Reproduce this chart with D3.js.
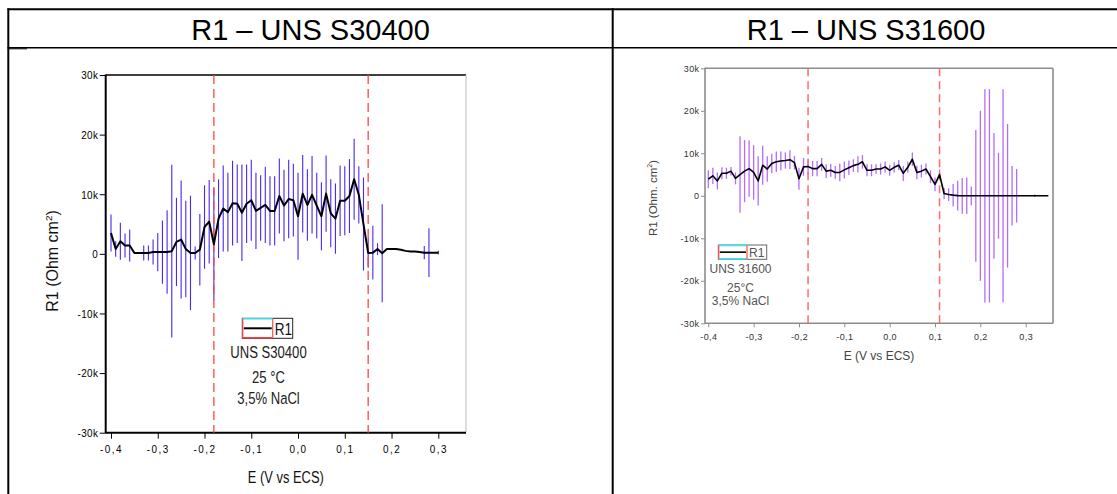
<!DOCTYPE html>
<html>
<head>
<meta charset="utf-8">
<script src="https://cdn.jsdelivr.net/npm/d3@7"></script>
<style>
  html, body { margin: 0; padding: 0; background: #fff; }
  svg { display: block; }
  text { font-family: "Liberation Sans", Arial, sans-serif; }
</style>
</head>
<body>
<svg id="fig" width="1117" height="494"></svg>
<script>
// ---- data -------------------------------------------------------------
const headers = ["R1 – UNS S30400", "R1 – UNS S31600"];
const xTickValues = [-0.4, -0.3, -0.2, -0.1, 0.0, 0.1, 0.2, 0.3];
const yTickValues = [-30, -20, -10, 0, 10, 20, 30];   // kOhm cm²

// UNS S30400: potential (V vs ECS), R1 (k), error (k)
const e304 = [-0.40,-0.39,-0.38,-0.37,-0.36,-0.35,-0.34,-0.33,-0.32,-0.31,
              -0.30,-0.29,-0.28,-0.27,-0.26,-0.25,-0.24,-0.23,-0.22,-0.21,
              -0.20,-0.19,-0.18,-0.17,-0.16,-0.15,-0.14,-0.13,-0.12,-0.11,
              -0.10,-0.09,-0.08,-0.07,-0.06,-0.05,-0.04,-0.03,-0.02,-0.01,
               0.00, 0.01, 0.02, 0.03, 0.04, 0.05, 0.06, 0.07, 0.08, 0.09,
               0.10, 0.11, 0.12, 0.13, 0.14, 0.15, 0.16, 0.17, 0.18, 0.19,
               0.20, 0.21, 0.22, 0.23, 0.24, 0.25, 0.26, 0.27, 0.28, 0.29, 0.30];
const r304 = [3.5, 0.8, 2.1, 1.4, 1.4, 0.15, 0.15, 0.15, 0.15, 0.3,
              0.3, 0.3, 0.3, 0.45, 2.0, 2.4, 0.8, 0.15, 0.15, 0.7,
              4.5, 5.4, 1.6, 5.9, 7.6, 7.0, 8.5, 8.4, 6.9, 8.4,
              9.0, 7.2, 7.7, 8.2, 7.2, 7.2, 9.7, 8.1, 9.2, 9.0,
              6.3, 10.1, 8.2, 9.9, 8.1, 6.3, 10.1, 6.8, 5.9, 8.9,
              8.9, 9.7, 12.5, 9.9, 5.0, 0.15, 0.2, 0.8, 0.1, 0.8,
              0.8, 0.8, 0.7, 0.5, 0.4, 0.4, 0.3, 0.2, 0.2, 0.2, 0.2];
const err304 = [3.1, 1.3, 3.1, 2.0, 2.7, 0, 0, 1.25, 1.25, 2.1,
                3.2, 5.3, 7.0, 14.5, 7.4, 9.9, 8.1, 9.6, 1.1, 6.0,
                7.0, 7.0, 9.4, 6.6, 7.2, 6.6, 7.1, 6.6, 8.1, 6.6,
                6.8, 6.4, 5.5, 6.4, 5.8, 5.8, 6.3, 6.0, 6.6, 6.1,
                7.3, 6.5, 6.0, 6.5, 5.5, 5.7, 6.4, 5.7, 5.9, 5.9,
                5.8, 6.2, 6.8, 4.8, 7.8, 2.5, 4.5, 1.0, 8.2, 0,
                0, 0, 0, 0, 0, 0, 0, 1.1, 4.1, 0, 0.3];
const markers304 = [-0.18, 0.15];
const notes304 = ["UNS S30400", "25 °C", "3,5% NaCl"];

// UNS S31600
const e316 = [-0.40,-0.39,-0.38,-0.37,-0.36,-0.35,-0.34,-0.33,-0.32,-0.31,
              -0.30,-0.29,-0.28,-0.27,-0.26,-0.25,-0.24,-0.23,-0.22,-0.21,
              -0.20,-0.19,-0.18,-0.17,-0.16,-0.15,-0.14,-0.13,-0.12,-0.11,
              -0.10,-0.09,-0.08,-0.07,-0.06,-0.05,-0.04,-0.03,-0.02,-0.01,
               0.00, 0.01, 0.02, 0.03, 0.04, 0.05, 0.06, 0.07, 0.08, 0.09,
               0.10, 0.11, 0.12, 0.13, 0.14, 0.15, 0.16, 0.17, 0.18, 0.19,
               0.20, 0.21, 0.22, 0.23, 0.24, 0.25, 0.26, 0.27, 0.28, 0.29,
               0.30, 0.31, 0.32, 0.33, 0.34, 0.35];
const r316 = [3.9, 4.7, 3.5, 5.3, 5.3, 5.8, 4.1, 5.0, 5.8, 6.4,
              5.5, 3.5, 7.2, 6.3, 7.6, 8.0, 8.2, 8.3, 8.5, 7.8,
              4.0, 6.8, 6.9, 6.4, 6.4, 7.4, 5.8, 6.0, 5.5, 5.5,
              6.1, 6.6, 7.1, 7.4, 8.0, 6.0, 6.0, 6.3, 6.3, 6.8,
              6.0, 6.7, 7.2, 5.3, 6.7, 8.6, 5.5, 5.8, 6.3, 4.5,
              2.7, 5.0, 0.55, 0.3, 0.15, 0.05, 0, 0, 0, 0,
              0, 0, 0, 0, 0, 0, 0, 0, 0, 0,
              0, 0, 0, 0, 0, 0];
const err316 = [2.1, 1.9, 2.0, 1.4, 1.3, 1.0, 1.4, 9.0, 7.3, 6.6,
                6.4, 5.8, 4.6, 3.0, 2.3, 2.4, 2.2, 1.9, 2.2, 1.6,
                2.6, 2.1, 1.9, 1.8, 1.8, 1.5, 1.6, 1.5, 1.5, 2.1,
                2.0, 1.7, 1.5, 1.9, 1.6, 1.4, 1.4, 1.1, 1.3, 1.3,
                1.3, 1.2, 1.2, 1.8, 1.3, 1.6, 1.6, 1.5, 1.3, 1.5,
                1.6, 1.2, 1.3, 1.5, 2.6, 3.5, 4.2, 4.3, 2.2, 15.5,
                20.0, 25.1, 25.1, 14.8, 10.1, 25.1, 16.9, 7.0, 6.3, 0,
                0, 0, 0.3, 0, 0, 0];
const markers316 = [-0.18, 0.11];
const notes316 = ["UNS 31600", "25°C", "3,5%  NaCl"];

// ---- page frame (two-column table) -------------------------------------
const svg = d3.select("#fig");
const W = 1117, H = 494;
const colX = 612.7;

svg.append("line").attr("x1", 7.5).attr("x2", W).attr("y1", 9.3).attr("y2", 9.3)
   .attr("stroke", "#000").attr("stroke-width", 2);
svg.append("line").attr("x1", 7.5).attr("x2", W).attr("y1", 47.7).attr("y2", 47.7)
   .attr("stroke", "#000").attr("stroke-width", 1.6);
svg.append("line").attr("x1", 8.3).attr("x2", 8.3).attr("y1", 8.3).attr("y2", H)
   .attr("stroke", "#000").attr("stroke-width", 2);
svg.append("line").attr("x1", colX).attr("x2", colX).attr("y1", 8.3).attr("y2", H)
   .attr("stroke", "#000").attr("stroke-width", 2);
svg.append("line").attr("x1", 8).attr("x2", 27).attr("y1", 48.8).attr("y2", 48.8)
   .attr("stroke", "#000").attr("stroke-width", 1);

svg.selectAll("text.header").data(headers).join("text")
   .attr("class", "header")
   .attr("x", (d, i) => i === 0 ? 310.5 : 866)
   .attr("y", 39.5)
   .attr("text-anchor", "middle")
   .attr("font-size", 29)
   .attr("fill", "#000")
   .text(d => d);

// ---- panel renderer ---------------------------------------------------
const fmtX = d => (d < 0 ? "-" : "") + Math.abs(d).toFixed(1).replace(".", ",");
const fmtY = d => d === 0 ? "0" : d + "k";

// text placed at (x, y) and condensed horizontally by sx
function narrowText(sel, x, y, sx) {
  return sel.attr("transform", `translate(${x},${y}) scale(${sx},1)`);
}

function drawPanel(cfg, E, R, ERR, markers, notes) {
  const g = svg.append("g");
  const x = d3.scaleLinear().domain([-0.4, 0.3]).range(cfg.xRange);
  const y = d3.scaleLinear().domain([-30, 30]).range(cfg.yRange);
  const pts = E.map((e, i) => ({ e, r: R[i], s: ERR[i] }));

  // frame
  const f = cfg.frame;
  g.append("line").attr("x1", f.l).attr("x2", f.r).attr("y1", f.t).attr("y2", f.t)
    .attr("stroke", cfg.frameTop).attr("stroke-width", cfg.frameTopW);
  g.append("line").attr("x1", f.r).attr("x2", f.r).attr("y1", f.t).attr("y2", f.b)
    .attr("stroke", cfg.frameRight).attr("stroke-width", cfg.frameRightW);

  // axes
  const ax = g.append("g").attr("transform", `translate(0,${f.b})`)
    .call(d3.axisBottom(x).tickValues(xTickValues).tickSize(cfg.tick).tickFormat(fmtX));
  ax.select(".domain").remove();
  ax.selectAll(".tick line").attr("stroke", cfg.axisColor).attr("stroke-width", cfg.tickW);
  ax.selectAll(".tick text")
    .attr("y", 0).attr("dy", 0)
    .attr("font-size", cfg.tickFont).attr("fill", cfg.tickColor)
    .attr("letter-spacing", cfg.xTickSpacing).attr("font-family", null)
    .attr("transform", `translate(0,${cfg.xLabelY}) scale(${cfg.tickSx},1)`);

  const ay = g.append("g").attr("transform", `translate(${f.l},0)`)
    .call(d3.axisLeft(y).tickValues(yTickValues).tickSize(cfg.tick).tickFormat(fmtY));
  ay.select(".domain").remove();
  ay.selectAll(".tick line").attr("stroke", cfg.axisColor).attr("stroke-width", cfg.tickW);
  ay.selectAll(".tick text")
    .attr("x", 0).attr("dy", "0.35em")
    .attr("font-size", cfg.tickFont).attr("fill", cfg.tickColor)
    .attr("letter-spacing", cfg.yTickSpacing).attr("font-family", null)
    .attr("transform", `translate(${-cfg.tick - 1.5},0) scale(${cfg.tickSx},1)`);

  g.append("line").attr("x1", f.l).attr("x2", f.r).attr("y1", f.b).attr("y2", f.b)
    .attr("stroke", cfg.axisColor).attr("stroke-width", cfg.axisW);
  g.append("line").attr("x1", f.l).attr("x2", f.l).attr("y1", f.t - 0.5).attr("y2", f.b + 0.5)
    .attr("stroke", cfg.axisColor).attr("stroke-width", cfg.axisW);

  // axis titles
  narrowText(g.append("text"), (f.l + f.r) / 2, cfg.xTitleY, cfg.xTitleSx)
    .attr("text-anchor", "middle").attr("font-size", cfg.xTitleFont)
    .attr("fill", cfg.titleColor).text("E (V vs ECS)");
  const yt = g.append("text")
    .attr("transform", `translate(${cfg.yTitleX},${cfg.yTitleCY}) rotate(-90)`)
    .attr("text-anchor", "middle").attr("font-size", cfg.titleFont)
    .attr("fill", cfg.titleColor);
  yt.append("tspan").text(cfg.yTitle);
  yt.append("tspan").attr("dy", -cfg.titleFont * 0.4).attr("font-size", cfg.titleFont * 0.62).text("2");
  yt.append("tspan").attr("dy", cfg.titleFont * 0.4).text(")");

  // error bars
  g.append("g").selectAll("line").data(pts.filter(p => p.s > 0)).join("line")
    .attr("x1", p => x(p.e)).attr("x2", p => x(p.e))
    .attr("y1", p => y(p.r + p.s)).attr("y2", p => y(p.r - p.s))
    .attr("stroke", cfg.barColor).attr("stroke-width", cfg.barW);

  // passivation markers
  g.append("g").selectAll("line").data(markers).join("line")
    .attr("x1", d => x(d)).attr("x2", d => x(d))
    .attr("y1", f.t).attr("y2", f.b)
    .attr("stroke", cfg.markColor).attr("stroke-width", cfg.markW)
    .attr("stroke-dasharray", cfg.dash);

  // mean curve
  g.append("path").datum(pts)
    .attr("d", d3.line().x(p => x(p.e)).y(p => y(p.r)))
    .attr("fill", "none").attr("stroke", "#000")
    .attr("stroke-width", cfg.lineW).attr("stroke-linejoin", "round");

  // legend
  const L = cfg.legend;
  const lg = g.append("g");
  lg.append("rect").attr("x", L.x).attr("y", L.y).attr("width", L.w).attr("height", L.h)
    .attr("fill", "#fff").attr("stroke", L.border).attr("stroke-width", 1);
  lg.append("line").attr("x1", L.x).attr("x2", L.x + L.sw).attr("y1", L.y + 0.5).attr("y2", L.y + 0.5)
    .attr("stroke", "#3ee6f2").attr("stroke-width", L.edgeW);
  lg.append("line").attr("x1", L.x).attr("x2", L.x + L.sw).attr("y1", L.y + L.h - 0.5).attr("y2", L.y + L.h - 0.5)
    .attr("stroke", L.bottomEdge).attr("stroke-width", L.edgeW);
  [L.x + 0.5, L.x + L.sw].forEach(xx =>
    lg.append("line").attr("x1", xx).attr("x2", xx).attr("y1", L.y + 0.5).attr("y2", L.y + L.h - 0.5)
      .attr("stroke", "#ff5050").attr("stroke-width", 1.2));
  lg.append("line").attr("x1", L.x + 1.5).attr("x2", L.x + L.sw - 1).attr("y1", L.y + L.h / 2).attr("y2", L.y + L.h / 2)
    .attr("stroke", "#000").attr("stroke-width", cfg.lineW);
  narrowText(lg.append("text"), L.x + L.sw + 2, L.y + L.h - L.textBase, L.sx)
    .attr("font-size", L.font).attr("fill", L.textColor).text("R1");

  g.append("g").selectAll("text").data(notes).join("text")
    .attr("transform", (d, i) => `translate(${cfg.notes.x},${cfg.notes.y[i]}) scale(${cfg.notes.sx},1)`)
    .attr("text-anchor", "middle").attr("font-size", cfg.notes.font)
    .attr("fill", cfg.notes.color).text(d => d);
}

drawPanel({
  xRange: [111, 438.3], yRange: [432.7, 75],
  frame: { l: 105.7, r: 466, t: 75, b: 432.7 },
  frameTop: "#000", frameTopW: 1.5, frameRight: "#bbb", frameRightW: 1,
  axisColor: "#000", axisW: 2, tick: 6, tickW: 1,
  tickFont: 11, tickSx: 0.9, tickColor: "#000", xTickSpacing: 1.6, yTickSpacing: 0.4, xLabelY: 20.5,
  titleFont: 16, titleColor: "#111",
  xTitleY: 483, xTitleFont: 17, xTitleSx: 0.76,
  yTitleX: 58, yTitleCY: 261, yTitle: "R1 (Ohm cm",
  barColor: "#4629f0", barW: 1.1,
  markColor: "#ff4545", markW: 1.3, dash: "9,5",
  lineW: 2,
  legend: { x: 242.3, y: 318.3, w: 50.4, h: 20, sw: 30.4, border: "#222", edgeW: 1.5,
            bottomEdge: "#ff3838", font: 17, sx: 0.8, textColor: "#111", textBase: 3.5 },
  notes: { x: 268.5, y: [358, 382.5, 404], font: 17, sx: 0.77, color: "#222" }
}, e304, r304, err304, markers304, notes304);

drawPanel({
  xRange: [708.3, 1025.7], yRange: [323.3, 68.3],
  frame: { l: 705, r: 1053, t: 68.3, b: 323.3 },
  frameTop: "#8c8c8c", frameTopW: 1.6, frameRight: "#8c8c8c", frameRightW: 1.6,
  axisColor: "#8c8c8c", axisW: 1.6, tick: 4, tickW: 1,
  tickFont: 9, tickSx: 1, tickColor: "#333", xTickSpacing: 0.4, yTickSpacing: 0.4, xLabelY: 16.5,
  titleFont: 11.5, titleColor: "#444",
  xTitleY: 360, xTitleFont: 12, xTitleSx: 1,
  yTitleX: 657, yTitleCY: 198, yTitle: "R1 (Ohm. cm",
  barColor: "#b26cff", barW: 1.3,
  markColor: "#ff6b6b", markW: 1.5, dash: "8,5",
  lineW: 1.6,
  legend: { x: 718.3, y: 245, w: 48.4, h: 14.3, sw: 28.7, border: "#666", edgeW: 1.6,
            bottomEdge: "#3ee6f2", font: 12, sx: 1, textColor: "#555", textBase: 2.5 },
  notes: { x: 740.5, y: [273.3, 291.5, 305], font: 12, sx: 1, color: "#555" }
}, e316, r316, err316, markers316, notes316);
</script>
</body>
</html>
